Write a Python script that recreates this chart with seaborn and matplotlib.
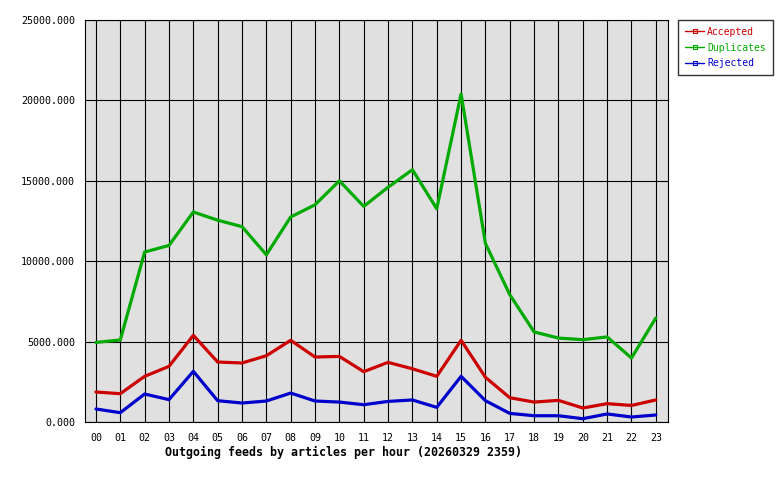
import matplotlib
matplotlib.use("Agg")
import matplotlib.pyplot as plt
from matplotlib.lines import Line2D
import seaborn as sns
import pandas as pd

hours = ["00", "01", "02", "03", "04", "05", "06", "07", "08", "09", "10", "11",
         "12", "13", "14", "15", "16", "17", "18", "19", "20", "21", "22", "23"]
accepted = [1865, 1760, 2840, 3460, 5390, 3730, 3670, 4120, 5080, 4040, 4080, 3130,
            3710, 3310, 2840, 5080, 2780, 1510, 1240, 1345, 870, 1140, 1030, 1370]
duplicates = [4950, 5100, 10570, 10980, 13060, 12550, 12150, 10400, 12750, 13510, 15000, 13410,
              14600, 15690, 13260, 20400, 11100, 7920, 5600, 5220, 5120, 5290, 3980, 6470]
rejected = [810, 580, 1740, 1390, 3150, 1325, 1180, 1305, 1800, 1305, 1240, 1075,
            1280, 1370, 910, 2840, 1325, 535, 390, 390, 205, 500, 310, 435]
series_names = ["Accepted", "Duplicates", "Rejected"]
colors = ["#cc0000", "#00aa00", "#0000cc"]
title = "Outgoing feeds by articles per hour (20260329 2359)"

rows = []
for name, vals in zip(series_names, [accepted, duplicates, rejected]):
    for i, v in enumerate(vals):
        rows.append({"hour": i, "value": v, "series": name})
df = pd.DataFrame(rows)

sns.set_theme(style="white")
plt.rcParams["font.family"] = ["DejaVu Sans Mono"]

fig = plt.figure(figsize=(7.8, 4.8), dpi=100)
ax = fig.add_axes([85 / 780, 1 - 422 / 480, (668 - 85) / 780, (422 - 20) / 480])
ax.set_facecolor("#e0e0e0")

sns.lineplot(data=df, x="hour", y="value", hue="series", hue_order=series_names,
             palette=colors, linewidth=2.3, legend=False, ax=ax)

ax.set_xlim(-0.45, 23.5)
ax.set_ylim(0, 25000)
ax.set_xticks(range(len(hours)))
ax.set_xticklabels(hours)
ax.set_yticks([0, 5000, 10000, 15000, 20000, 25000])
ax.set_yticklabels([f"{v:.3f}" for v in [0, 5000, 10000, 15000, 20000, 25000]])
ax.grid(True, color="black", linewidth=0.8)
ax.set_axisbelow(True)
for s in ax.spines.values():
    s.set_color("black")
    s.set_linewidth(0.8)
ax.tick_params(axis="y", length=3, width=0.8, color="black", pad=4, labelsize=7.2, labelcolor="black")
ax.tick_params(axis="x", length=0, pad=8, labelsize=7.2, labelcolor="black")
ax.set_xlabel("")
ax.set_ylabel("")

fig.text(165 / 780, 1 - 452 / 480, title, fontsize=8.4, fontweight="bold",
         ha="left", va="center", color="black")

handles = [Line2D([0], [0], color=c, linewidth=1, marker="s", markersize=2.5,
                  markerfacecolor="none", markeredgewidth=0.8) for c in colors]
leg = fig.legend(handles, series_names, loc="upper left",
                 bbox_to_anchor=(678 / 780, 1 - 20 / 480), borderaxespad=0,
                 fontsize=7.0, frameon=True, fancybox=False, handlelength=2.0,
                 handletextpad=0.3, labelspacing=0.6, borderpad=0.7)
leg.get_frame().set_edgecolor("black")
leg.get_frame().set_linewidth(1)
for t, c in zip(leg.get_texts(), colors):
    t.set_color(c)

fig.savefig("out.png", dpi=100, facecolor="white")
